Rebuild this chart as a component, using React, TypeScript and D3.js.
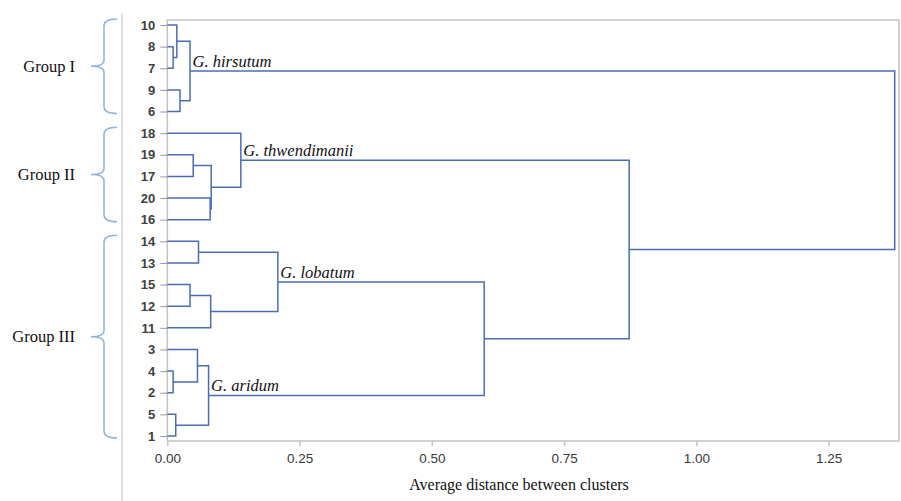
import React, { useEffect, useRef } from 'react';
import * as d3 from 'd3';

// leaves, top to bottom
const leafOrder = ['10', '8', '7', '9', '6', '18', '19', '17', '20', '16', '14', '13', '15', '12', '11', '3', '4', '2', '5', '1'];

// [cluster id, upper child, lower child, merge distance]
const joins: [string, string, string, number][] = [
  ['a', '8', '7', 0.011],
  ['b', '10', 'a', 0.018],
  ['c', '9', '6', 0.024],
  ['hirsutum', 'b', 'c', 0.043],
  ['d', '19', '17', 0.049],
  ['e', '20', '16', 0.081],
  ['f', 'd', 'e', 0.083],
  ['thwendimanii', '18', 'f', 0.139],
  ['g', '14', '13', 0.059],
  ['h', '15', '12', 0.043],
  ['i', 'h', '11', 0.082],
  ['lobatum', 'g', 'i', 0.209],
  ['j', '4', '2', 0.011],
  ['k', '3', 'j', 0.057],
  ['l', '5', '1', 0.016],
  ['aridum', 'k', 'l', 0.078],
  ['m', 'lobatum', 'aridum', 0.599],
  ['n', 'thwendimanii', 'm', 0.873],
  ['root', 'hirsutum', 'n', 1.375],
];

const speciesNodes = ['hirsutum', 'thwendimanii', 'lobatum', 'aridum'];
const speciesLabels = ['G. hirsutum', 'G. thwendimanii', 'G. lobatum', 'G. aridum'];

const groupLabels = ['Group I', 'Group II', 'Group III'];
const groupFirstLeaf = ['10', '18', '14'];
const groupLastLeaf = ['6', '16', '1'];

const distanceTicks = [0, 0.25, 0.5, 0.75, 1, 1.25];
const axisTitle = 'Average distance between clusters';

const W = 901;
const H = 501;

const App = () => {
  const ref = useRef<SVGSVGElement>(null);

  useEffect(() => {
    if (!ref.current) return;
    const svg = d3.select(ref.current);
    svg.selectAll('*').remove();

    const left = 167.3, top = 20, right = 900, bottom = 441;
    const lineBlue = '#4a6db5';
    const frameGray = '#c4c4c4';

    const x = d3.scaleLinear().domain([0, 1.25]).range([left, 828.6]);
    const y = d3.scalePoint<string>().domain(leafOrder).range([25, 436]);

    // node positions
    const pos = new Map<string, { y: number; h: number }>();
    leafOrder.forEach(l => pos.set(l, { y: y(l)!, h: 0 }));
    joins.forEach(([id, a, b, h]) => {
      pos.set(id, { y: (pos.get(a)!.y + pos.get(b)!.y) / 2, h });
    });

    // outer gray divider
    svg.append('line')
      .attr('x1', 122).attr('x2', 122).attr('y1', 13).attr('y2', H)
      .attr('stroke', '#d4d4d4').attr('stroke-width', 1.5);

    // plot frame
    svg.append('path')
      .attr('d', `M${left},${bottom}V${top}H${right - 1}V${bottom}H${left}`)
      .attr('fill', 'none')
      .attr('stroke', frameGray)
      .attr('stroke-width', 1.5);

    // x axis
    const xAxis = svg.append('g')
      .attr('transform', `translate(0,${bottom})`)
      .call(d3.axisBottom(x).tickValues(distanceTicks).tickFormat(d3.format('.2f')).tickSize(5).tickSizeOuter(0).tickPadding(7));
    xAxis.select('.domain').remove();
    xAxis.selectAll('line').attr('stroke', frameGray).attr('stroke-width', 1.5);
    xAxis.selectAll('text')
      .attr('fill', '#383838')
      .style('font-family', '"Liberation Sans", Arial, sans-serif')
      .style('font-size', '13.5px');

    // leaf axis
    const yAxis = svg.append('g')
      .attr('transform', `translate(${left},0)`)
      .call(d3.axisLeft(y).tickSize(7).tickPadding(5));
    yAxis.select('.domain').remove();
    yAxis.selectAll('line').attr('stroke', '#9a9a9a').attr('stroke-width', 1);
    yAxis.selectAll('text')
      .attr('fill', '#404040')
      .style('font-family', '"Liberation Sans", Arial, sans-serif')
      .style('font-size', '13px')
      .style('font-weight', 'bold');

    // dendrogram elbows
    svg.append('g')
      .selectAll('path')
      .data(joins)
      .enter()
      .append('path')
      .attr('d', ([, a, b, h]) => {
        const pa = pos.get(a)!, pb = pos.get(b)!;
        return `M${x(pa.h)},${pa.y}H${x(h)}V${pb.y}H${x(pb.h)}`;
      })
      .attr('fill', 'none')
      .attr('stroke', lineBlue)
      .attr('stroke-width', 1.5);

    // species labels
    svg.append('g')
      .selectAll('text')
      .data(speciesNodes)
      .enter()
      .append('text')
      .attr('x', d => x(pos.get(d)!.h) + 2.5)
      .attr('y', d => pos.get(d)!.y - 4)
      .attr('fill', '#111')
      .style('font-family', '"Liberation Serif", "Times New Roman", serif')
      .style('font-style', 'italic')
      .style('font-size', '16.5px')
      .text((d, i) => speciesLabels[i]);

    // group braces
    const braceBlue = '#8fb2de';
    groupLabels.forEach((g, i) => {
      const y0 = y(groupFirstLeaf[i])! - 6;
      const y1 = y(groupLastLeaf[i])! + 2;
      const ym = (y0 + y1) / 2;
      const xv = 104, xt = 117, xc = 91;
      svg.append('path')
        .attr('d', `M${xt},${y0}Q${xv},${y0} ${xv},${y0 + 7}L${xv},${ym - 6}Q${xv},${ym} ${xc},${ym}Q${xv},${ym} ${xv},${ym + 6}L${xv},${y1 - 7}Q${xv},${y1} ${xt},${y1}`)
        .attr('fill', 'none')
        .attr('stroke', braceBlue)
        .attr('stroke-width', 1.5);
      svg.append('text')
        .attr('x', 75)
        .attr('y', ym)
        .attr('dy', '0.35em')
        .attr('text-anchor', 'end')
        .attr('fill', '#111')
        .style('font-family', '"Liberation Serif", "Times New Roman", serif')
        .style('font-size', '16.5px')
        .text(g);
    });

    // axis title
    svg.append('text')
      .attr('x', 519)
      .attr('y', 490)
      .attr('text-anchor', 'middle')
      .attr('fill', '#111')
      .style('font-family', '"Liberation Serif", "Times New Roman", serif')
      .style('font-size', '16px')
      .text(axisTitle);
  }, []);

  return (
    <svg
      ref={ref}
      width={W}
      height={H}
      style={{ position: 'absolute', left: 0, top: 0, background: '#fff' }}
    />
  );
};

export default App;
